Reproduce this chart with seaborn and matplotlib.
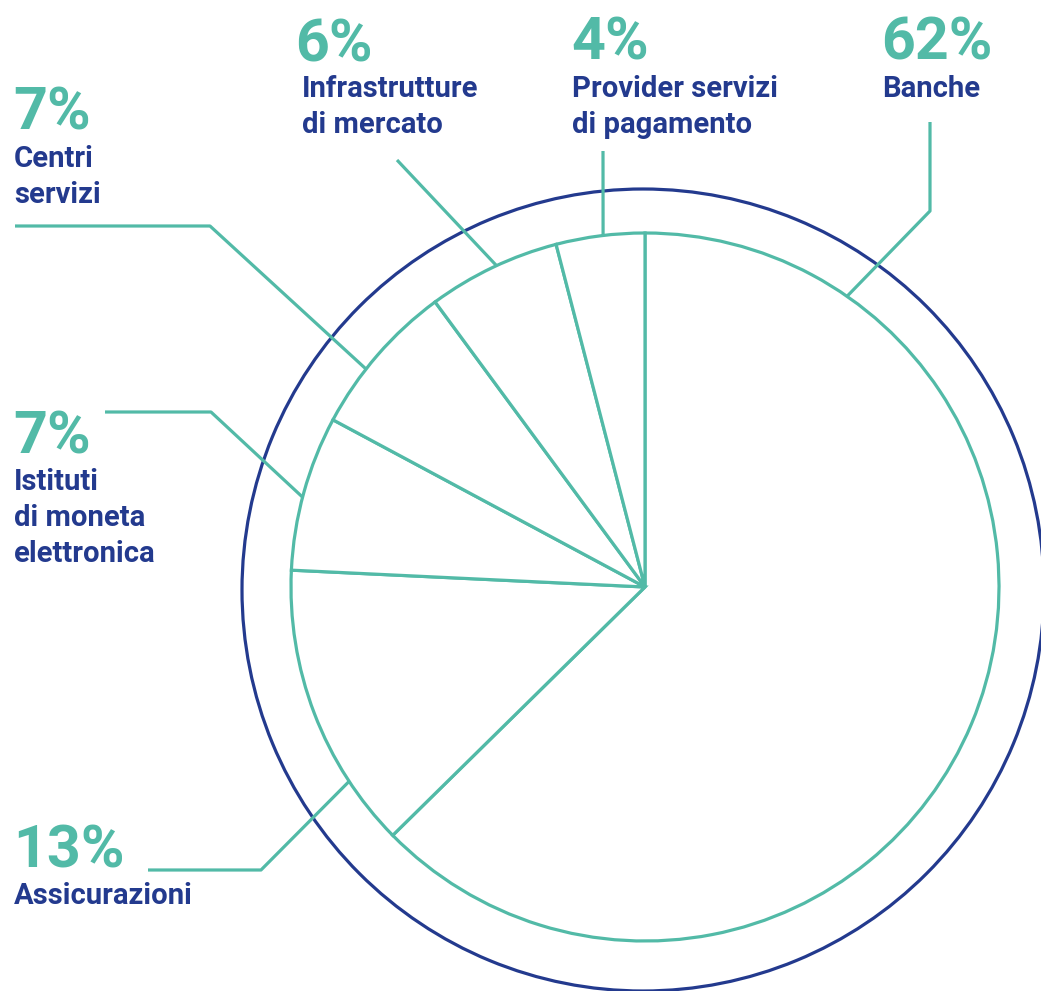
import numpy as np
import matplotlib
matplotlib.use("Agg")
import matplotlib.pyplot as plt
import seaborn as sns

# ---------------- data ----------------
categories = ["Banche", "Assicurazioni", "Istituti di moneta elettronica",
              "Centri servizi", "Infrastrutture di mercato",
              "Provider servizi di pagamento"]
values = [62, 13, 7, 7, 6, 4]
label_lines = [["Banche"], ["Assicurazioni"], ["Istituti", "di moneta", "elettronica"],
               ["Centri", "servizi"], ["Infrastrutture", "di mercato"],
               ["Provider servizi", "di pagamento"]]

# ---------------- style ----------------
TEAL = "#52BAA7"
NAVY = "#233A8E"
W, H = 1041, 991

sns.set_theme(style="white")
plt.rcParams["font.family"] = ["Roboto", "DejaVu Sans"]

fig = plt.figure(figsize=(W / 100, H / 100), dpi=100)
ax = fig.add_axes([0, 0, 1, 1])

def Y(y):  # layout values are given top-down (image style)
    return H - y

CX, CY, R = 645, Y(587), 354
OCX, OCY, OR = 643, Y(590), 401

# outer navy ring
ax.pie([1], center=(OCX, OCY), radius=OR, startangle=90,
       wedgeprops=dict(fill=False, edgecolor=NAVY, linewidth=2.3))

# main pie
wedges, _ = ax.pie(values, center=(CX, CY), radius=R, startangle=90, counterclock=False,
                   wedgeprops=dict(facecolor="white", edgecolor=TEAL, linewidth=2.3))

# ---------------- labels / leaders (layout) ----------------
# anchor angle on the pie edge (deg), then bend points (image coords)
leaders = [
    (55.2, [(930, 211), (930, 122)]),
    (213.3, [(261, 870), (148, 870)]),
    (165.3, [(211, 412), (105, 412)]),
    (142.0, [(210, 226), (15, 226)]),
    (114.8, [(397, 160)]),
    (96.8, [(603, 151)]),
]
# pct x, pct baseline, name x, first name baseline
text_pos = [
    (881, 60, 882, 97),
    (13, 868, 14, 904),
    (13, 453, 14, 490),
    (13, 130, 14, 167),
    (295, 61, 302, 97),
    (571, 60, 572, 97),
]
LINE_STEP = 36

for (ang, pts), (px, pb, nx, nb), v, lines in zip(leaders, text_pos, values, label_lines):
    a = np.deg2rad(ang)
    xs = [CX + R * np.cos(a)] + [p[0] for p in pts]
    ys = [CY + R * np.sin(a)] + [Y(p[1]) for p in pts]
    ax.plot(xs, ys, color=TEAL, lw=2.3, solid_capstyle="butt", zorder=5)
    ax.text(px, Y(pb), f"{v}%", color=TEAL, fontsize=42.6, fontweight="bold",
            ha="left", va="baseline")
    for i, ln in enumerate(lines):
        ax.text(nx, Y(nb + i * LINE_STEP), ln, color=NAVY, fontsize=21.1,
                fontweight="bold", ha="left", va="baseline")

ax.set_xlim(0, W)
ax.set_ylim(0, H)
ax.set_aspect("equal")
ax.axis("off")

fig.savefig("out.png", dpi=100, facecolor="white")
